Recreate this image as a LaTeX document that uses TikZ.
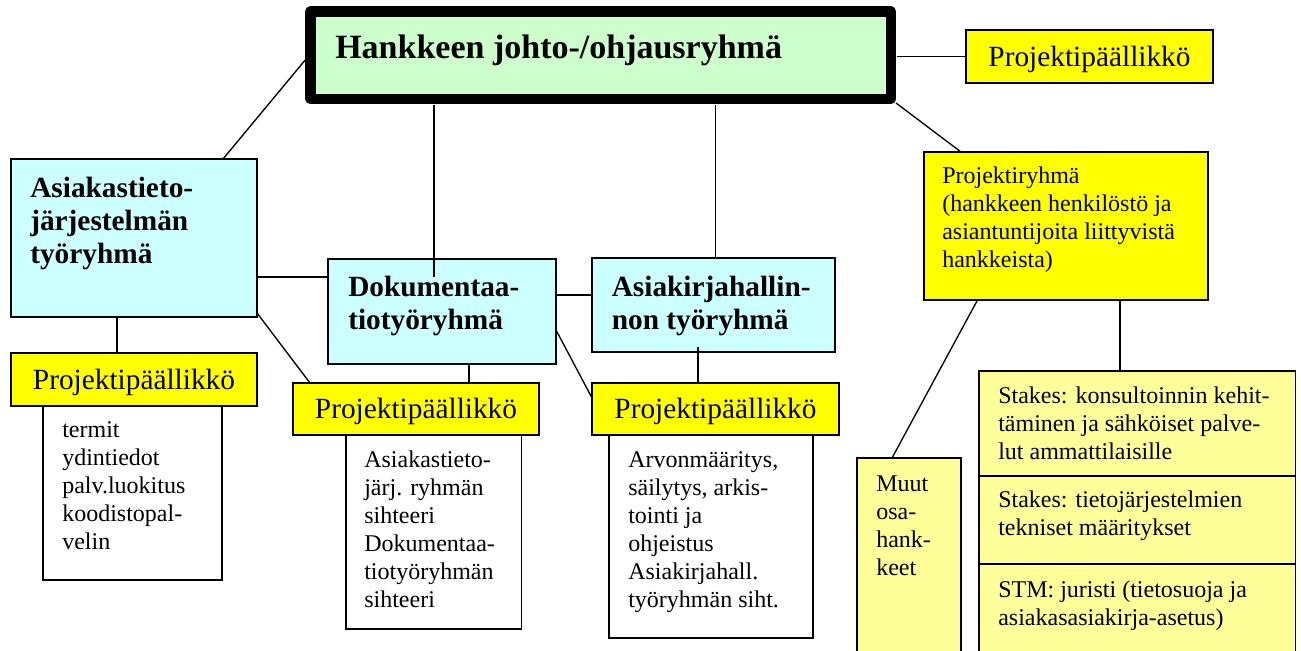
\documentclass[tikz,border=0pt]{standalone}
\usepackage{fontspec}
\setmainfont{Liberation Serif}
\definecolor{hgreen}{HTML}{CCFFCC}
\definecolor{hcyan}{HTML}{CCFFFF}
\definecolor{hyel}{HTML}{FFFF00}
\definecolor{hpale}{HTML}{FFFF99}
\newcommand\fnsmall{\fontsize{18}{21}\selectfont}
\newcommand\fnpp{\fontsize{22}{25}\selectfont}
\newcommand\fnbold{\fontsize{22}{24.75}\selectfont\bfseries}
\newcommand\fntitle{\fontsize{25.5}{30}\selectfont\bfseries}
% \mkbox{name}{style}{left}{top}{right}{bottom}{text}  (pixel units)
\newcommand\mkbox[7]{\node[#2, minimum width={(#5-#3)*0.75pt}, minimum height={(#6-#4)*0.75pt}] (#1) at ({(#3+#5)/2},{(#4+#6)/2}) {#7};}
\begin{document}
\begin{tikzpicture}[x=0.75pt,y=-0.75pt,
  box/.style={draw, line width=1.1pt, inner sep=0pt, outer sep=0pt},
  topbox/.style={draw, line width=7.9pt, line join=round, fill=hgreen, inner sep=0pt, outer sep=0pt},
  cyanbox/.style={box, fill=hcyan},
  ppbox/.style={box, fill=hyel, font=\fnpp, text height=14.5pt, text depth=0pt},
  yelbox/.style={box, fill=hyel},
  palebox/.style={box, fill=hpale},
  whitebox/.style={box, fill=white},
  txt/.style={inner sep=0pt, anchor=north west, align=left, font=\fnsmall},
  btxt/.style={inner sep=0pt, anchor=north west, align=left, font=\fnbold},
  con/.style={line width=1pt}]
\fill[white] (0,0) rectangle (1301,650);
\useasboundingbox (0,0) rectangle (1301,650);

% boxes
\mkbox{top}{topbox}{310.5}{11.5}{891}{99}{}
\mkbox{pp0}{ppbox}{966}{30}{1213}{83}{Projektipäällikkö}
\mkbox{asia}{cyanbox}{11}{159}{257}{317}{}
\mkbox{dok}{cyanbox}{328}{259}{556}{364}{}
\mkbox{ark}{cyanbox}{592}{258}{835}{352}{}
\mkbox{prj}{yelbox}{924}{152}{1208}{300}{}
\mkbox{w1}{whitebox}{43}{406}{222}{580}{}
\mkbox{w2}{whitebox}{346}{435}{521.5}{629}{}
\mkbox{w3}{whitebox}{609}{435}{813}{638}{}
\mkbox{pp1}{ppbox}{11}{353}{257}{406}{Projektipäällikkö}
\mkbox{pp2}{ppbox}{293}{383}{539}{435}{Projektipäällikkö}
\mkbox{pp3}{ppbox}{592}{383}{839}{435}{Projektipäällikkö}
\mkbox{muut}{palebox}{857}{458}{961}{662}{}
\mkbox{s1}{palebox}{979}{371}{1295.5}{476}{}
\mkbox{s2}{palebox}{979}{476}{1295.5}{564}{}
\mkbox{s3}{palebox}{979}{564}{1295.5}{662}{}

% texts
\node[inner sep=0pt, anchor=base west, font=\fntitle] (ttop) at (335,58) {Hankkeen johto-/ohjausryhmä};
\node[btxt] (tasia) at (30,173.9) {\strut Asiakastieto-\\järjestelmän\\työryhmä};
\node[btxt] (tdok) at (348,272.9) {\strut Dokumentaa-\\tiotyöryhmä};
\node[btxt] (tark) at (611.5,272.9) {\strut Asiakirjahallin-\\non työryhmä};
\node[txt] (tprj) at (942,163.7) {\strut Projektiryhmä\\(hankkeen henkilöstö ja\\asiantuntijoita liittyvistä\\hankkeista)};
\node[txt] (tw1) at (62,418.1) {\strut termit\\ydintiedot\\palv.luokitus\\koodistopal-\\velin};
\node[txt] (tw2) at (364,447.4) {\strut Asiakastieto-\\järj. ryhmän\\sihteeri\\Dokumentaa-\\tiotyöryhmän\\sihteeri};
\node[txt] (tw3) at (628,447.4) {\strut Arvonmääritys,\\säilytys, arkis-\\tointi ja\\ohjeistus\\Asiakirjahall.\\työryhmän siht.};
\node[txt] (tmuut) at (876,472.1) {\strut Muut\\osa-\\hank-\\keet};
\node[txt] (ts1) at (998,383.4) {\strut Stakes: konsultoinnin kehit-\\täminen ja sähköiset palve-\\lut ammattilaisille};
\node[txt] (ts2) at (998,487.9) {\strut Stakes: tietojärjestelmien\\tekniset määritykset};
\node[txt] (ts3) at (998,577.4) {\strut STM: juristi (tietosuoja ja\\asiakasasiakirja-asetus)};

% connectors
\draw[con] ([shift={(-5.5,5)}]top.west) -- ([shift={(212,0)}]asia.north west);
\draw[con] ([shift={(-166.75,5.5)}]top.south) -- ([shift={(-8,18)}]dok.north);
\draw[con] ([shift={(114.75,5.5)}]top.south) -- ([shift={(2,0)}]ark.north);
\draw[con] ([shift={(5.5,1.25)}]top.east) -- (pp0.west);
\draw[con] ([shift={(5,4)}]top.south east) -- ([shift={(37,0)}]prj.north west);
\draw[con] ([shift={(0,39)}]asia.east) -- ([shift={(0,-34.5)}]dok.west);
\draw[con] ([shift={(0,-16.5)}]dok.east) -- ([shift={(0,-10)}]ark.west);
\draw[con] ([shift={(-17,0)}]asia.south) -- ([shift={(-17,0)}]pp1.north);
\draw[con] ([shift={(0,-4)}]asia.south east) -- ([shift={(17,0)}]pp2.north west);
\draw[con] ([shift={(27,0)}]dok.south) -- ([shift={(53,0)}]pp2.north);
\draw[con] ([shift={(0,18.5)}]dok.east) -- ([shift={(0,15)}]pp3.north west);
\draw[con] ([shift={(-15.5,-5)}]ark.south) -- ([shift={(-17.5,0)}]pp3.north);
\draw[con] ([shift={(-88.5,0)}]prj.south) -- ([shift={(-17,0)}]muut.north);
\draw[con] ([shift={(54,0)}]prj.south) -- ([shift={(-17.25,0)}]s1.north);
\end{tikzpicture}
\end{document}
